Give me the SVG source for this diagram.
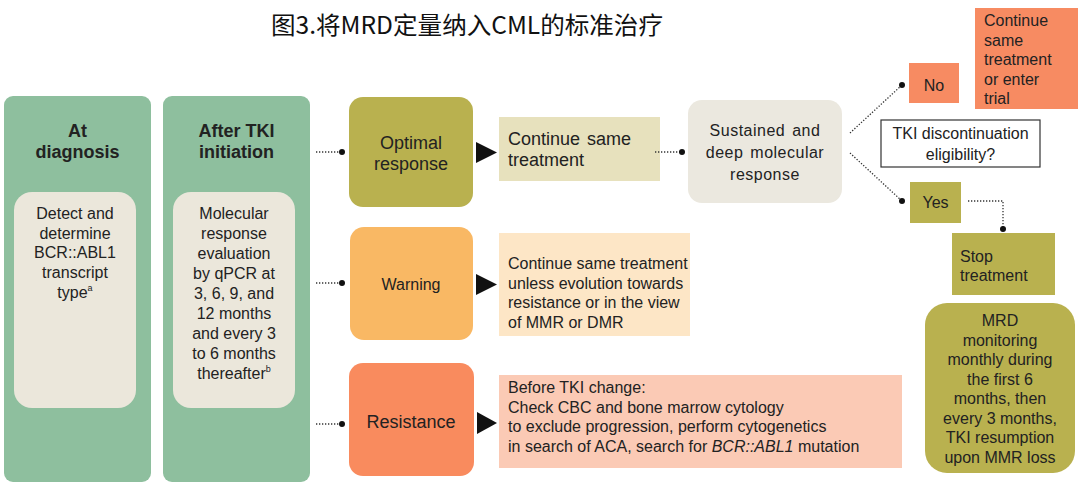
<svg xmlns="http://www.w3.org/2000/svg" width="1080" height="486" viewBox="0 0 1080 486">
<style>
text{font-family:"Liberation Sans",Arial,sans-serif;fill:#222;font-size:16px}
.b{font-weight:bold;font-size:18px}
.c{text-anchor:middle}
.l18{font-size:18px}
.title{font-family:"Noto Sans CJK SC","Noto Sans CJK TC",sans-serif;font-size:24px;fill:#111}
.dot{fill:none;stroke:#333;stroke-width:1.3;stroke-dasharray:1.3 1.7}
.pt{fill:#111}
</style>
<rect width="1080" height="486" fill="#ffffff"/>
<text class="title" x="467" y="34" text-anchor="middle" textLength="392" lengthAdjust="spacingAndGlyphs">图3.将MRD定量纳入CML的标准治疗</text>

<g id="at-diagnosis">
<rect x="4" y="96" width="147" height="386" rx="9" fill="#8ebf9e"/>
<text class="b c" x="77.5" y="137">At</text>
<text class="b c" x="77.5" y="158">diagnosis</text>
<rect x="14" y="192" width="122" height="216" rx="18" fill="#ebe7db"/>
<text class="c" x="75" y="219">Detect and</text>
<text class="c" x="75" y="238.7">determine</text>
<text class="c" x="75" y="258.4">BCR::ABL1</text>
<text class="c" x="75" y="278.1">transcript</text>
<text class="c" x="75" y="297.8">type<tspan font-size="9" dy="-7">a</tspan></text>
</g>

<g id="after-tki">
<rect x="163" y="96" width="147" height="386" rx="9" fill="#8ebf9e"/>
<text class="b c" x="236.5" y="137">After TKI</text>
<text class="b c" x="236.5" y="158">initiation</text>
<rect x="173" y="192" width="122" height="216" rx="18" fill="#ebe7db"/>
<text class="c" x="234" y="219">Molecular</text>
<text class="c" x="234" y="239">response</text>
<text class="c" x="234" y="259">evaluation</text>
<text class="c" x="234" y="279">by qPCR at</text>
<text class="c" x="234" y="299">3, 6, 9, and</text>
<text class="c" x="234" y="319">12 months</text>
<text class="c" x="234" y="339">and every 3</text>
<text class="c" x="234" y="359">to 6 months</text>
<text class="c" x="234" y="379">thereafter<tspan font-size="9" dy="-7">b</tspan></text>
</g>

<g id="optimal">
<rect x="349" y="97" width="124" height="110" rx="14" fill="#b9b14f"/>
<text class="c l18" x="411" y="149">Optimal</text>
<text class="c l18" x="411" y="170">response</text>
</g>
<g id="continue-optimal">
<rect x="499" y="117" width="161" height="64" fill="#e7e1bd"/>
<text class="l18" x="508" y="145" word-spacing="2">Continue same</text>
<text class="l18" x="508" y="166">treatment</text>
</g>
<g id="sustained">
<rect x="688" y="100" width="154" height="103" rx="14" fill="#ebe8df"/>
<text class="c" x="765" y="136" font-size="18" letter-spacing="0.5" word-spacing="2">Sustained and</text>
<text class="c" x="765" y="158" font-size="18" letter-spacing="0.5" word-spacing="2">deep molecular</text>
<text class="c" x="765" y="180" font-size="18" letter-spacing="0.5">response</text>
</g>
<g id="no">
<rect x="909" y="63" width="50" height="40" fill="#f78b62"/>
<text class="c" x="934" y="91" font-size="19">No</text>
</g>
<g id="continue-or-trial">
<rect x="975" y="8" width="103" height="101" fill="#f78b62"/>
<text x="984" y="26">Continue</text>
<text x="984" y="45.5">same</text>
<text x="984" y="65">treatment</text>
<text x="984" y="84.5">or enter</text>
<text x="984" y="104">trial</text>
</g>
<g id="eligibility">
<rect x="881" y="120" width="159" height="47" fill="#ffffff" stroke="#333" stroke-width="1.2"/>
<text class="c" x="960.5" y="139">TKI discontinuation</text>
<text class="c" x="960.5" y="160">eligibility?</text>
</g>
<g id="yes">
<rect x="910" y="182" width="51" height="41" fill="#b9b14f"/>
<text class="c" x="935.5" y="208" font-size="18">Yes</text>
</g>
<g id="stop">
<rect x="952" y="233" width="103" height="62" fill="#b9b14f"/>
<text x="960" y="262">Stop</text>
<text x="960" y="281">treatment</text>
</g>
<g id="mrd">
<rect x="925" y="303" width="150" height="170" rx="22" fill="#b9b14f"/>
<text class="c" x="1000" y="326">MRD</text>
<text class="c" x="1000" y="345.5">monitoring</text>
<text class="c" x="1000" y="365">monthly during</text>
<text class="c" x="1000" y="384.5">the first 6</text>
<text class="c" x="1000" y="404">months, then</text>
<text class="c" x="1000" y="423.5">every 3 months,</text>
<text class="c" x="1000" y="443">TKI resumption</text>
<text class="c" x="1000" y="462.5">upon MMR loss</text>
</g>

<g id="warning">
<rect x="350" y="227" width="123" height="113" rx="14" fill="#f9b864"/>
<text class="c" x="411" y="290" font-size="18">Warning</text>
</g>
<g id="warning-action">
<rect x="499" y="233" width="191" height="103" fill="#fde6c6"/>
<text x="508" y="269">Continue same treatment</text>
<text x="508" y="288.5">unless evolution towards</text>
<text x="508" y="308">resistance or in the view</text>
<text x="508" y="327.5">of MMR or DMR</text>
</g>

<g id="resistance">
<rect x="349" y="363" width="125" height="113" rx="14" fill="#f98b5e"/>
<text class="c l18" x="411" y="428">Resistance</text>
</g>
<g id="resistance-action">
<rect x="499" y="375" width="403" height="93" fill="#fbcab5"/>
<text x="508" y="393">Before TKI change:</text>
<text x="508" y="412.5">Check CBC and bone marrow cytology</text>
<text x="508" y="432">to exclude progression, perform cytogenetics</text>
<text x="508" y="451.5">in search of ACA, search for <tspan font-style="italic">BCR::ABL1</tspan> mutation</text>
</g>

<g id="connectors">
<line class="dot" x1="316" y1="152" x2="342" y2="152"/>
<circle class="pt" cx="342" cy="152" r="3"/>
<line class="dot" x1="316" y1="283" x2="342" y2="283"/>
<circle class="pt" cx="342" cy="283" r="3"/>
<line class="dot" x1="316" y1="424" x2="342" y2="424"/>
<circle class="pt" cx="342" cy="424" r="3"/>
<polygon class="pt" points="476,142 476,163 497,152.5"/>
<polygon class="pt" points="476,274 476,295 497,284.5"/>
<polygon class="pt" points="477,412 477,434 497,423"/>
<line class="dot" x1="655" y1="152" x2="682" y2="152"/>
<circle class="pt" cx="682" cy="152" r="3"/>
<line class="dot" x1="850" y1="133" x2="902" y2="85"/>
<circle class="pt" cx="902" cy="85" r="3"/>
<line class="dot" x1="850" y1="153" x2="902" y2="201"/>
<circle class="pt" cx="902" cy="201" r="3"/>
<polyline class="dot" points="968,201 1003,201 1003,228"/>
<circle class="pt" cx="1003" cy="229" r="3"/>
</g>
</svg>
